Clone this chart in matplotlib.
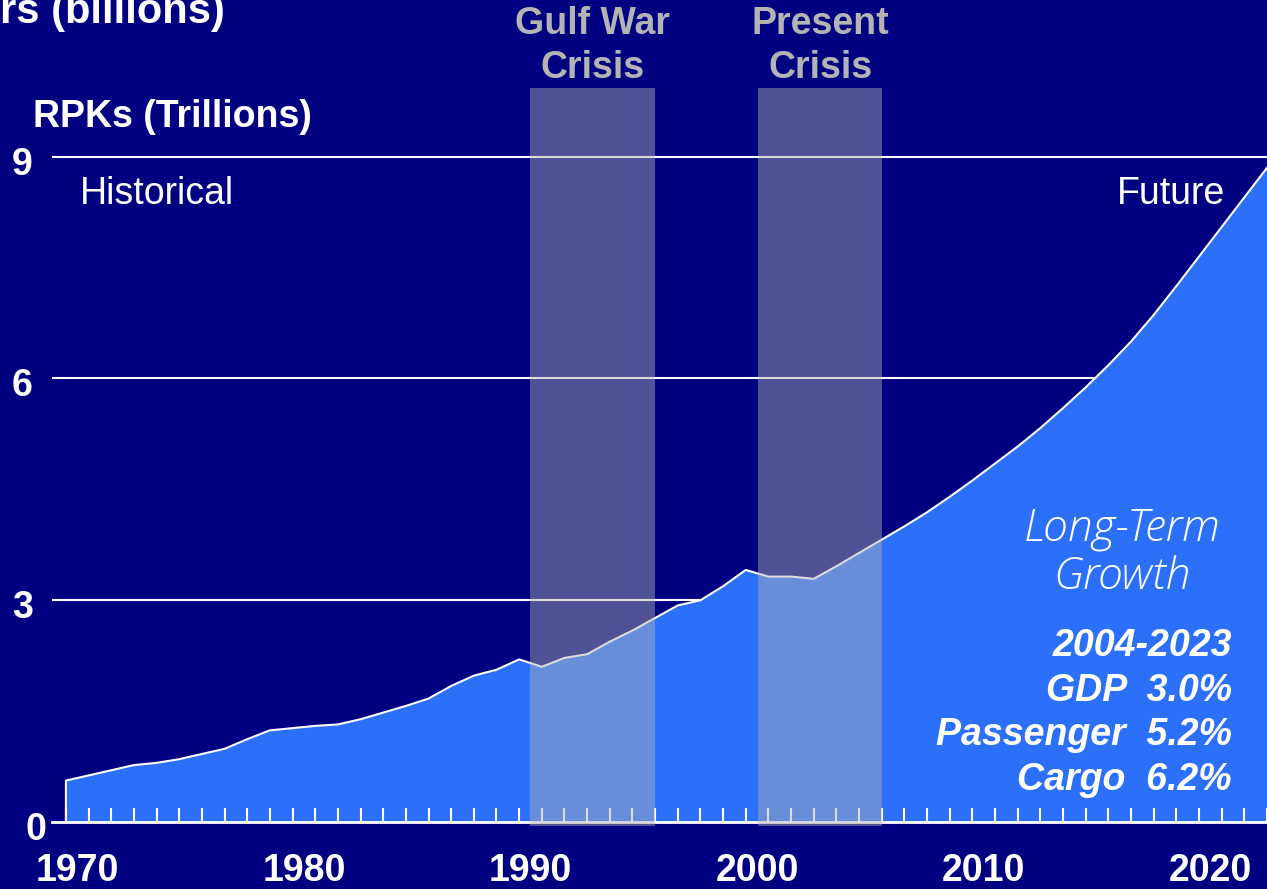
import matplotlib
matplotlib.use("Agg")
import matplotlib.pyplot as plt
from matplotlib.transforms import ScaledTranslation

# RPKs in trillions (1970-2006 historical, then forecast)
years = list(range(1970, 2024))
rpk = [0.56, 0.63, 0.70, 0.77, 0.80, 0.85, 0.92, 0.99, 1.12, 1.24,
       1.27, 1.30, 1.32, 1.39, 1.48, 1.57, 1.67, 1.84, 1.98, 2.06,
       2.20, 2.10, 2.22, 2.27, 2.44, 2.59, 2.76, 2.93, 3.00, 3.19,
       3.41, 3.32, 3.32, 3.29, 3.46, 3.64, 3.82, 4.00, 4.19, 4.40,
       4.62, 4.85, 5.08, 5.33, 5.60, 5.88, 6.18, 6.50, 6.86, 7.25,
       7.65, 8.05, 8.45, 8.85]

crisis_spans = [(1990.48, 1995.98), (2000.53, 2006.03)]
crisis_labels = ["Gulf War\nCrisis", "Present\nCrisis"]
y_ticks = [0, 3, 6, 9]
x_labels = [1970, 1980, 1990, 2000, 2010, 2020]
growth_lines = ["2004-2023", "GDP  3.0%", "Passenger  5.2%", "Cargo  6.2%"]

NAVY = "#000080"
BLUE = "#2c70fa"
W, H = 1267, 889
FS = 27

plt.rcParams["font.family"] = ["Liberation Sans", "DejaVu Sans"]

fig = plt.figure(figsize=(W / 100, H / 100), dpi=100, facecolor=NAVY)
ax = fig.add_axes([52 / W, (H - 822) / H, (W - 52) / W, (822 - 88) / H])
ax.set_facecolor(NAVY)


def px(x, y):
    return x / W, 1 - y / H


# grid lines sit behind the area
for v in y_ticks[1:]:
    ax.axhline(v, color="white", lw=1.5, zorder=1)

ax.fill_between(years, rpk, 0, color=BLUE, lw=0, zorder=2)
ax.plot([years[0]] + years, [0] + rpk, color="white", lw=1.5, zorder=3)

for (a, b) in crisis_spans:
    ax.axvspan(a, b, ymin=-0.005, ymax=1, color="#b2b2b2", alpha=0.46,
               lw=0, zorder=6, clip_on=False)

ax.set_xlim(1970 - 14 / 22.8, 1970 + (W - 66) / 22.8)
ax.set_ylim(0, 9.93)

for s in ["left", "right", "top"]:
    ax.spines[s].set_visible(False)
ax.spines["bottom"].set_color("white")
ax.spines["bottom"].set_linewidth(2)
ax.spines["bottom"].set_zorder(4)
ax.xaxis.set_zorder(4)

# year ticks (minor) pointing up, labels centred between ticks
ax.set_xticks(years, minor=True)
ax.tick_params(axis="x", which="minor", direction="in", length=10,
               width=1.5, color="white")
ax.set_xticks([y + 0.5 for y in x_labels])
ax.set_xticklabels([str(y) for y in x_labels])
ax.tick_params(axis="x", which="major", length=0, pad=22, labelsize=FS,
               labelcolor="white")
for lab in ax.get_xticklabels():
    lab.set_fontweight("bold")

ax.set_yticks(y_ticks)
ax.set_yticklabels([str(v) for v in y_ticks])
ax.tick_params(axis="y", length=0, pad=14, labelsize=FS, labelcolor="white")
for lab in ax.get_yticklabels():
    lab.set_fontweight("bold")
    lab.set_va("top")
    lab.set_transform(lab.get_transform() + ScaledTranslation(0, 10 / 100, fig.dpi_scale_trans))
zero = ax.get_yticklabels()[0]
zero.set_transform(zero.get_transform() + ScaledTranslation(14 / 100, 0, fig.dpi_scale_trans))

# texts
fig.text(*px(0, 23), "rs (billions)", color="white", fontsize=30,
         fontweight="bold", ha="left", va="baseline")
fig.text(*px(33, 117), "RPKs (Trillions)", color="white", fontsize=FS,
         fontweight="bold", ha="left", va="center")
fig.text(*px(80, 194), "Historical", color="white", fontsize=FS,
         ha="left", va="center")
fig.text(*px(1225, 194), "Future", color="white", fontsize=FS,
         ha="right", va="center")

for (a, b), lab in zip(crisis_spans, crisis_labels):
    xc = ax.transData.transform(((a + b) / 2, 0))[0]
    fig.text(xc / W, 1 - 46 / H, lab, color="#b4b4b4", fontsize=FS,
             fontweight="bold", ha="center", va="center", linespacing=1.32)

fig.text(*px(1122, 553), "Long-Term\nGrowth", color="white", fontsize=32,
         family=["Open Sans", "DejaVu Sans"], fontweight="light",
         style="italic", ha="center", va="center", linespacing=1.12)

for i, line in enumerate(growth_lines):
    fig.text(*px(1232, 646 + i * 44.7), line, color="white", fontsize=FS,
             fontweight="bold", style="italic", ha="right", va="center")

fig.savefig("out.png", dpi=100, facecolor=NAVY)
